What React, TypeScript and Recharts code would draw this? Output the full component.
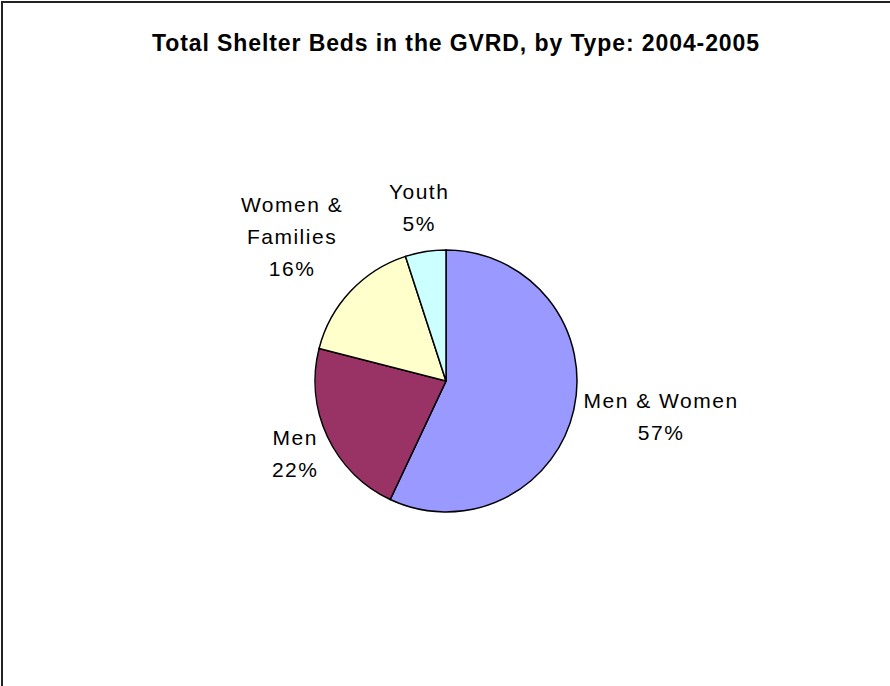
import { PieChart, Pie, Cell } from "recharts";

const categories = ["Men & Women", "Men", "Women & Families", "Youth"];
const shares = [57, 22, 16, 5];
const colors = ["#9999FF", "#993366", "#FFFFCC", "#CCFFFF"];

const data = categories.map((name, i) => ({ name, value: shares[i] }));

const FONT = "21px 'Liberation Sans', Arial, sans-serif";
const SPACING = 1.5;
const LINE = 32;

let ctx: CanvasRenderingContext2D | null = null;
function textWidth(s: string) {
  if (!ctx) ctx = document.createElement("canvas").getContext("2d");
  if (!ctx) return s.length * 11;
  ctx.font = FONT;
  return ctx.measureText(s).width + SPACING * s.length;
}

// Excel wraps the long category name onto two lines
function lines(name: string, value: number) {
  const cut = name.lastIndexOf(" ");
  const out = name.length > 12 ? [name.slice(0, cut), name.slice(cut + 1)] : [name];
  return [...out, `${value}%`];
}

const RAD = Math.PI / 180;

const renderLabel = (props: any) => {
  const { cx, cy, midAngle, outerRadius, name, value } = props;
  const rows = lines(name, value);
  const w = Math.max(...rows.map(textWidth));
  const h = rows.length * LINE;
  const dx = Math.cos(-midAngle * RAD);
  const dy = Math.sin(-midAngle * RAD);
  const m = Math.max(Math.abs(dx), Math.abs(dy));
  const px = cx + (outerRadius + 10) * dx;
  const py = cy + (outerRadius + 10) * dy;
  // push the label box out so its edge sits just off the rim
  const bx = px + ((dx / m) * w) / 2;
  const by = py + ((dy / m) * h) / 2;
  const top = by - h / 2;
  return (
    <text
      textAnchor="middle"
      fill="#000"
      style={{ font: FONT, letterSpacing: SPACING }}
    >
      {rows.map((r, i) => (
        <tspan key={i} x={bx} y={top + LINE * i + LINE / 2 + 5}>
          {r}
        </tspan>
      ))}
    </text>
  );
};

export default function App() {
  return (
    <div
      style={{
        position: "absolute",
        top: 0,
        left: 0,
        width: 890,
        height: 686,
        background: "#fff",
        fontFamily: "'Liberation Sans', Arial, sans-serif",
      }}
    >
      <div
        style={{
          position: "absolute",
          top: 1,
          left: 1,
          right: -4,
          bottom: -4,
          borderTop: "2px solid #222",
          borderLeft: "2px solid #222",
        }}
      />
      <div
        style={{
          position: "absolute",
          top: 31,
          left: 0,
          width: 912,
          textAlign: "center",
          fontWeight: "bold",
          fontSize: 23,
          letterSpacing: 0.9,
          lineHeight: "24px",
        }}
      >
        Total Shelter Beds in the GVRD, by Type: 2004-2005
      </div>
      <PieChart
        width={890}
        height={686}
        margin={{ top: 0, right: 0, bottom: 0, left: 0 }}
        style={{ position: "absolute", top: 0, left: 0 }}
      >
        <Pie
          data={data}
          dataKey="value"
          nameKey="name"
          cx={446}
          cy={381}
          outerRadius={131}
          startAngle={90}
          endAngle={-270}
          stroke="#000"
          strokeWidth={1.5}
          label={renderLabel}
          labelLine={false}
          isAnimationActive={false}
        >
          {data.map((d, i) => (
            <Cell key={d.name} fill={colors[i]} />
          ))}
        </Pie>
      </PieChart>
    </div>
  );
}
